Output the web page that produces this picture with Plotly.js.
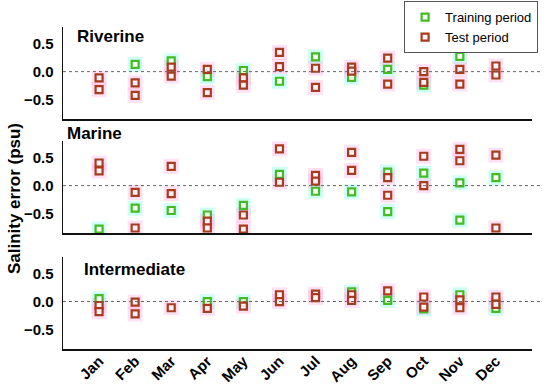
<!DOCTYPE html>
<html>
<head>
<meta charset="utf-8">
<script src="https://cdn.plot.ly/plotly-3.0.1.min.js"></script>
<style>html,body{margin:0;padding:0;background:#fff;}#chart{width:550px;height:386px;}</style>
</head>
<body>
<div id="chart"></div>
<script>
const months = ['Jan','Feb','Mar','Apr','May','Jun','Jul','Aug','Sep','Oct','Nov','Dec'];
const yTickVals = [-0.5, 0, 0.5];
const yTickText = ['\u22120.5', '0.0', '0.5'];
const panelNames = ['Riverine', 'Marine', 'Intermediate'];

// Riverine
const riverineTrainMonths = ['Feb','Mar','Apr','May','Jun','Jul','Aug','Sep','Oct','Nov'];
const riverineTrainValues = [0.13, 0.19, -0.09, 0.02, -0.17, 0.26, -0.10, 0.04, -0.24, 0.27];
const riverineTestMonths = ['Jan','Jan','Feb','Feb','Mar','Mar','Apr','Apr','May','May','Jun','Jun','Jul','Jul','Aug','Aug','Sep','Sep','Oct','Oct','Nov','Nov','Dec','Dec'];
const riverineTestValues = [-0.11, -0.32, -0.20, -0.42, 0.08, -0.08, 0.04, -0.37, -0.11, -0.24, 0.34, 0.09, 0.06, -0.28, 0.08, 0.01, 0.24, -0.22, 0.00, -0.19, 0.04, -0.22, 0.10, -0.06];

// Marine
const marineTrainMonths = ['Jan','Feb','Mar','Apr','May','Jun','Jul','Aug','Sep','Sep','Oct','Nov','Nov','Dec'];
const marineTrainValues = [-0.77, -0.40, -0.44, -0.52, -0.35, 0.20, -0.10, -0.11, 0.24, -0.46, 0.22, 0.05, -0.61, 0.14];
const marineTestMonths = ['Jan','Jan','Feb','Feb','Mar','Mar','Apr','Apr','May','May','Jun','Jun','Jul','Jul','Aug','Aug','Sep','Sep','Oct','Oct','Nov','Nov','Dec','Dec'];
const marineTestValues = [0.40, 0.26, -0.12, -0.75, 0.34, -0.14, -0.63, -0.75, -0.52, -0.77, 0.65, 0.06, 0.18, 0.08, 0.59, 0.27, 0.14, -0.17, 0.52, 0.00, 0.64, 0.44, 0.54, -0.75];

// Intermediate
const interTrainMonths = ['Jan','Apr','May','Aug','Sep','Oct','Nov','Dec'];
const interTrainValues = [0.05, 0.00, 0.00, 0.17, 0.02, -0.13, 0.12, -0.12];
const interTestMonths = ['Jan','Jan','Feb','Feb','Mar','Apr','May','Jun','Jun','Jul','Jul','Aug','Aug','Sep','Oct','Oct','Nov','Nov','Dec','Dec'];
const interTestValues = [-0.07, -0.18, -0.01, -0.22, -0.11, -0.12, -0.08, 0.12, 0.00, 0.13, 0.07, 0.12, 0.02, 0.19, 0.08, -0.10, 0.03, -0.11, 0.08, -0.05];

const trainColor = '#44bb22';
const testColor = '#a63c1c';
const font = 'Liberation Sans, Arial, sans-serif';

const panels = [
  {xa: 'x', ya: 'y', tm: riverineTrainMonths, tv: riverineTrainValues, sm: riverineTestMonths, sv: riverineTestValues},
  {xa: 'x2', ya: 'y2', tm: marineTrainMonths, tv: marineTrainValues, sm: marineTestMonths, sv: marineTestValues},
  {xa: 'x3', ya: 'y3', tm: interTrainMonths, tv: interTrainValues, sm: interTestMonths, sv: interTestValues}
];

const traces = [];
panels.forEach((p, i) => {
  traces.push({x: p.tm, y: p.tv, xaxis: p.xa, yaxis: p.ya, type: 'scatter', mode: 'markers', showlegend: false, hoverinfo: 'skip',
    marker: {symbol: 'square', size: 15, color: 'rgba(150,255,240,0.45)', line: {width: 0}}});
  traces.push({x: p.sm, y: p.sv, xaxis: p.xa, yaxis: p.ya, type: 'scatter', mode: 'markers', showlegend: false, hoverinfo: 'skip',
    marker: {symbol: 'square', size: 15, color: 'rgba(255,170,225,0.35)', line: {width: 0}}});
});
panels.forEach((p, i) => {
  traces.push({x: p.tm, y: p.tv, xaxis: p.xa, yaxis: p.ya, type: 'scatter', mode: 'markers', name: 'Training period',
    legendgroup: 'train', showlegend: i === 0,
    marker: {symbol: 'square', size: 7, color: '#f4fff0', line: {width: 2.2, color: trainColor}}});
});
panels.forEach((p, i) => {
  traces.push({x: p.sm, y: p.sv, xaxis: p.xa, yaxis: p.ya, type: 'scatter', mode: 'markers', name: 'Test period',
    legendgroup: 'test', showlegend: i === 0,
    marker: {symbol: 'square', size: 7, color: '#fff0f8', line: {width: 2.2, color: testColor}}});
});

const yr = [-0.84, 0.79];
function xAx(anchor, showLabels) {
  return {anchor: anchor, type: 'category', categoryorder: 'array', categoryarray: months, range: [-1, 12],
    showline: true, linecolor: '#111', linewidth: 1.5, showgrid: false, zeroline: false, ticks: '',
    showticklabels: showLabels, tickangle: -45, ticklabelstandoff: -4, automargin: false,
    tickfont: {family: font, size: 15, color: '#000', weight: 'bold'}};
}
function yAx(anchor, domain) {
  return {anchor: anchor, domain: domain, range: yr, tickvals: yTickVals, ticktext: yTickText,
    showline: true, linecolor: '#111', linewidth: 1.5, showgrid: false, zeroline: false, ticks: '', ticklabelstandoff: 5,
    automargin: false, tickfont: {family: font, size: 15, color: '#000', weight: 'bold'}};
}

const shapes = ['y', 'y2', 'y3'].map(ya => ({type: 'line', xref: 'paper', yref: ya, x0: 0, x1: 1.023, y0: 0, y1: 0,
  line: {color: '#666', width: 1, dash: 'dot'}}));

const annotations = [
  {text: panelNames[0], x: 0.026, y: 0.969},
  {text: panelNames[1], x: 0.004, y: 0.668},
  {text: panelNames[2], x: 0.041, y: 0.248}
].map(a => ({text: a.text, xref: 'paper', yref: 'paper', x: a.x, y: a.y, xanchor: 'left', yanchor: 'middle', showarrow: false,
  font: {family: font, size: 17, color: '#000', weight: 'bold'}}));
annotations.push({text: 'Salinity error (psu)', xref: 'paper', yref: 'paper', x: -0.102, y: 0.466, textangle: -90,
  xanchor: 'center', yanchor: 'middle', showarrow: false, font: {family: font, size: 17, color: '#000', weight: 'bold'}});

const layout = {
  width: 550, height: 386,
  margin: {l: 63, r: 18, t: 27, b: 37, autoexpand: false},
  paper_bgcolor: '#fff', plot_bgcolor: 'rgba(0,0,0,0)',
  font: {family: font, color: '#000'},
  showlegend: true,
  legend: {x: 1.013, y: 1.08, xanchor: 'right', yanchor: 'top',
    bgcolor: '#fff', bordercolor: '#555', borderwidth: 1,
    font: {family: font, size: 13, color: '#000'}, tracegroupgap: 0},
  xaxis: xAx('y', false),
  yaxis: yAx('x', [0.714, 1.0]),
  xaxis2: xAx('y2', false),
  yaxis2: yAx('x2', [0.360, 0.646]),
  xaxis3: xAx('y3', true),
  yaxis3: yAx('x3', [0, 0.286]),
  shapes: shapes,
  annotations: annotations
};

Plotly.newPlot('chart', traces, layout, {displayModeBar: false, staticPlot: true});
</script>
</body>
</html>
